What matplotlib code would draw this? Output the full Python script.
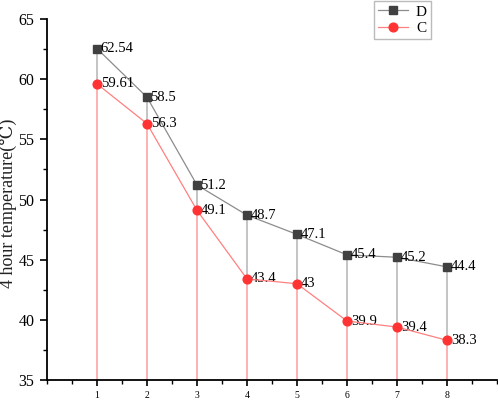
import matplotlib.pyplot as plt
from matplotlib.ticker import MultipleLocator

# 数据
x = [1, 2, 3, 4, 5, 6, 7, 8]
d_vals = [62.54, 58.5, 51.2, 48.7, 47.1, 45.4, 45.2, 44.4]
c_vals = [59.61, 56.3, 49.1, 43.4, 43, 39.9, 39.4, 38.3]
d_labels = ['62.54', '58.5', '51.2', '48.7', '47.1', '45.4', '45.2', '44.4']
c_labels = ['59.61', '56.3', '49.1', '43.4', '43', '39.9', '39.4', '38.3']

serif = ['Liberation Serif', 'DejaVu Serif']
plt.rcParams['font.family'] = serif

fig = plt.figure(figsize=(4.98, 4.03), dpi=100)
ax = fig.add_axes([47 / 498, 1 - 380 / 403, 450 / 498, 361 / 403])

# 垂线
ax.vlines(x, 35, d_vals, color='#c4c4c4', lw=1.4, zorder=1)
ax.vlines(x, 35, c_vals, color='#ffb3b3', lw=1.4, zorder=2)

ax.plot(x, d_vals, color='#8c8c8c', lw=0.9, marker='s', ms=5.5,
        mfc='#404040', mec='#404040', label='D', zorder=3)
ax.plot(x, c_vals, color='#ff8080', lw=0.9, marker='o', ms=6.3,
        mfc='#ff3333', mec='#ff3333', label='C', zorder=4)

for xi, yi, t in zip(x, d_vals, d_labels):
    ax.annotate(t, (xi, yi), xytext=(2.5, 0), textcoords='offset points',
                va='center', ha='left', fontsize=10.5)
for xi, yi, t in zip(x, c_vals, c_labels):
    ax.annotate(t, (xi, yi), xytext=(3, 0), textcoords='offset points',
                va='center', ha='left', fontsize=10.5)

ax.set_xlim(0, 9)
ax.set_ylim(35, 65)
ax.xaxis.set_minor_locator(MultipleLocator(0.5))
ax.yaxis.set_major_locator(MultipleLocator(5))
ax.yaxis.set_minor_locator(MultipleLocator(2.5))
ax.set_xticks(x)
ax.set_xticklabels([str(i) for i in x], fontsize=7)
ax.tick_params(axis='y', labelsize=11.5, length=5, width=1.2, pad=4)
ax.tick_params(axis='x', length=4, width=1.2, pad=4)
ax.tick_params(which='minor', length=3, width=1)

for s in ['top', 'right']:
    ax.spines[s].set_visible(False)
ax.spines['left'].set_linewidth(1.3)
ax.spines['bottom'].set_linewidth(1.3)

ax.set_ylabel('4 hour temperature(℃)', fontsize=13, family=serif, color='#222222')
ax.yaxis.set_label_coords(-(47 - 17) / 450, 0.49)

fig.legend(loc='upper left', bbox_to_anchor=(374 / 498, 1 - 1 / 403),
           fontsize=11, frameon=True, fancybox=False, edgecolor='#aaaaaa',
           handlelength=2.0, borderpad=0.25, labelspacing=0.2, handletextpad=0.5,
           borderaxespad=0)

fig.savefig('out.png', dpi=100)
